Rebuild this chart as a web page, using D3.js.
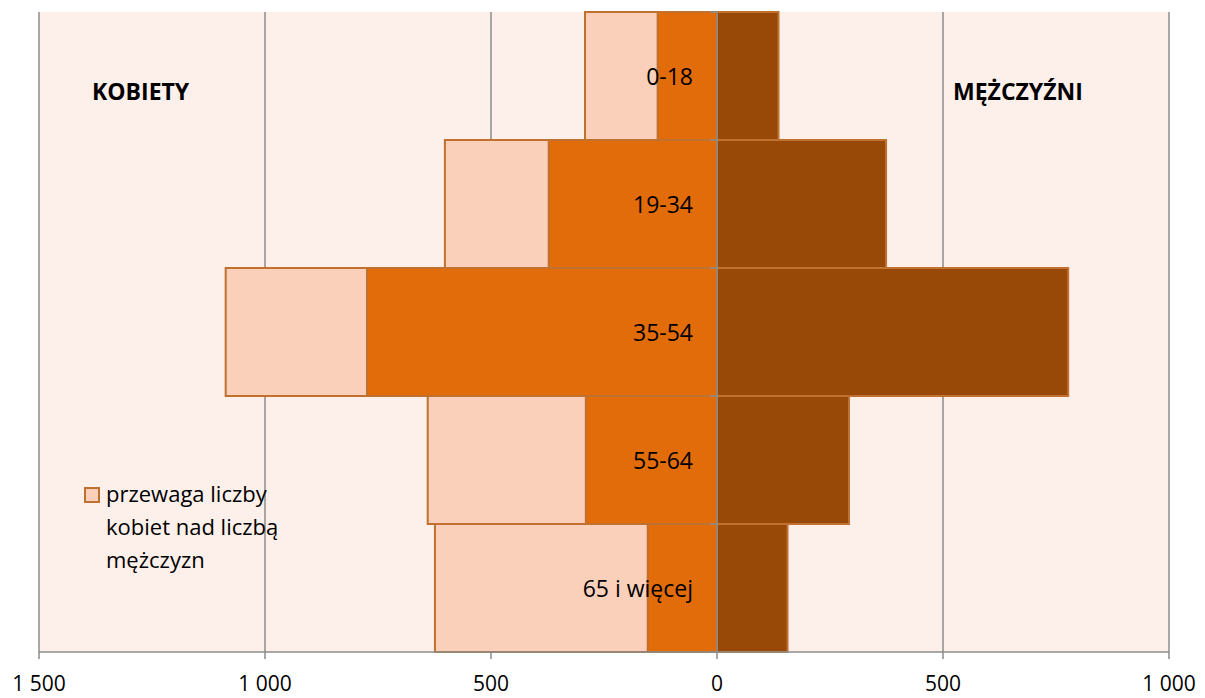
<!DOCTYPE html>
<html><head><meta charset="utf-8">
<script src="https://cdn.jsdelivr.net/npm/d3@7"></script>
<style>body{margin:0;background:#fff}svg{display:block}text{font-family:"Open Sans",sans-serif;fill:#000}</style>
</head><body><svg id="c" width="1205" height="698"></svg>
<script>
const categories = ["0-18","19-34","35-54","55-64","65 i więcej"];
const women = [131, 372, 774, 290, 153];
const surplus = [161, 230, 313, 350, 471];
const men = [136, 374, 777, 292, 156];
const tickValues = [-1500,-1000,-500,0,500,1000];
const tickLabels = ["1 500","1 000","500","0","500","1 000"];
const legendLines = ["przewaga liczby","kobiet nad liczbą","mężczyzn"];

const svg = d3.select("#c");
const L=39, R=1169, T=12, B=652;
const x = d3.scaleLinear().domain([-1500,1000]).range([L,R]);
const y = d3.scaleBand().domain(categories).range([T,B]).padding(0);

svg.append("rect").attr("x",L).attr("y",T).attr("width",R-L).attr("height",B-T).attr("fill","#FDEFEA");
svg.append("g").selectAll("line").data(tickValues).join("line")
  .attr("x1",d=>x(d)).attr("x2",d=>x(d)).attr("y1",T).attr("y2",B)
  .attr("stroke","#8C8C8C").attr("stroke-width",1.5);

const stroke="#C0702F";
const g = svg.append("g");
categories.forEach((c,i)=>{
  g.append("rect").attr("x",x(-women[i]-surplus[i])).attr("y",y(c))
   .attr("width",x(-women[i])-x(-women[i]-surplus[i])).attr("height",y.bandwidth())
   .attr("fill","#FBD0BB").attr("stroke",stroke).attr("stroke-width",2);
  g.append("rect").attr("x",x(-women[i])).attr("y",y(c))
   .attr("width",x(0)-x(-women[i])).attr("height",y.bandwidth())
   .attr("fill","#E36C0A").attr("stroke",stroke).attr("stroke-width",2);
  g.append("rect").attr("x",x(0)).attr("y",y(c))
   .attr("width",x(men[i])-x(0)).attr("height",y.bandwidth())
   .attr("fill","#984807").attr("stroke",stroke).attr("stroke-width",2);
});

svg.append("line").attr("x1",x(0)).attr("x2",x(0)).attr("y1",T).attr("y2",B).attr("stroke","#8C8C8C").attr("stroke-width",1.5);
const bounds = categories.map(c=>y(c)).concat([B]);
svg.append("g").selectAll("line").data(bounds).join("line")
  .attr("x1",x(0)-7).attr("x2",x(0)).attr("y1",d=>d).attr("y2",d=>d)
  .attr("stroke","#8C8C8C").attr("stroke-width",1.5);
svg.append("g").selectAll("text").data(categories).join("text")
  .attr("x",x(0)-24).attr("y",d=>y(d)+y.bandwidth()/2+9).attr("text-anchor","end")
  .style("font-size","23px").text(d=>d);

svg.append("line").attr("x1",L).attr("x2",R).attr("y1",B).attr("y2",B).attr("stroke","#8C8C8C").attr("stroke-width",1.5);
svg.append("g").selectAll("line").data(tickValues).join("line")
  .attr("x1",d=>x(d)).attr("x2",d=>x(d)).attr("y1",B).attr("y2",B+7)
  .attr("stroke","#8C8C8C").attr("stroke-width",1.5);
svg.append("g").selectAll("text").data(tickValues).join("text")
  .attr("x",d=>x(d)).attr("y",691).attr("text-anchor","middle").style("font-size","21px")
  .text((d,i)=>tickLabels[i]);

svg.append("text").attr("x",92).attr("y",100).style("font-size","23px").style("font-weight","bold").text("KOBIETY");
svg.append("text").attr("x",953).attr("y",100).style("font-size","23px").style("font-weight","bold").text("MĘŻCZYŹNI");

svg.append("rect").attr("x",85).attr("y",488).attr("width",14).attr("height",14)
  .attr("fill","#FBD0BB").attr("stroke",stroke).attr("stroke-width",2);
svg.append("g").selectAll("text").data(legendLines).join("text")
  .attr("x",106).attr("y",(d,i)=>502+i*33).style("font-size","22px").text(d=>d);
</script></body></html>
